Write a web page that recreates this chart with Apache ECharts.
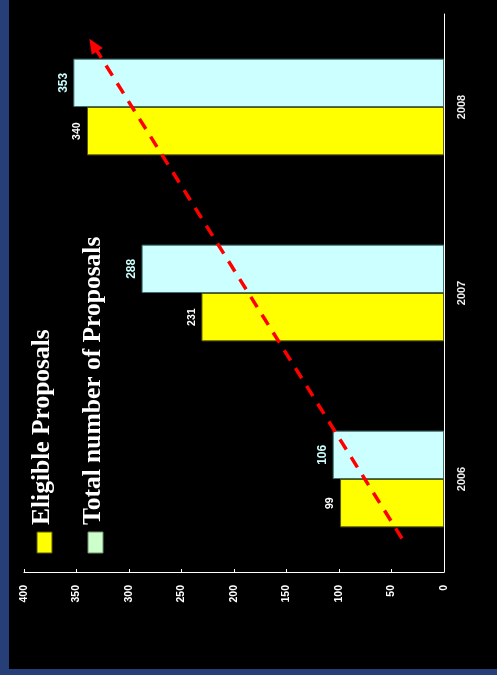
<!DOCTYPE html>
<html>
<head>
<meta charset="utf-8">
<script src="https://cdn.jsdelivr.net/npm/echarts@6/dist/echarts.min.js"></script>
<style>
  html, body { margin: 0; padding: 0; width: 497px; height: 675px; overflow: hidden; background: #263f78; }
  #chart { position: absolute; left: 9px; top: 0; width: 488px; height: 669px; background: #000; }
</style>
</head>
<body>
<div id="chart"></div>
<script>
// Proposals per year
const years = ['2006', '2007', '2008'];
const seriesNames = ['Eligible Proposals', 'Total number of Proposals'];
const eligible = [99, 231, 340];
const total = [106, 288, 353];

// Value scale
const valueMin = 0;
const valueMax = 400;
const valueStep = 50;

// Growth arrow: [value, category position] (category position 0 = 2006 ... 2 = 2008)
const trendStart = [40, -0.32];
const trendEnd = [334, 2.333];

const sans = '"Liberation Sans", Arial, sans-serif';
const serif = '"Liberation Serif", "Times New Roman", serif';

const chart = echarts.init(document.getElementById('chart'), null, { renderer: 'canvas' });

function barLabel(color, size) {
  return {
    show: true,
    position: 'outside',
    rotate: 90,
    align: 'center',
    verticalAlign: 'bottom',
    distance: 4,
    color: color,
    fontSize: size,
    fontWeight: 'bold',
    fontFamily: sans
  };
}

chart.setOption({
  backgroundColor: 'transparent',
  animation: false,
  grid: { left: 15, right: 53, top: 14, bottom: 97, containLabel: false },
  xAxis: [
    {
      type: 'value',
      inverse: true,
      position: 'bottom',
      min: valueMin,
      max: valueMax,
      interval: valueStep,
      axisLine: { show: true, onZero: false, lineStyle: { color: '#ffffff', width: 1 } },
      axisTick: { show: true, inside: true, length: 3, lineStyle: { color: '#ffffff' } },
      axisLabel: { rotate: 90, color: '#ffffff', fontSize: 10.5, fontWeight: 'bold', fontFamily: sans, margin: 13 },
      splitLine: { show: false }
    },
    {
      type: 'value',
      inverse: true,
      min: valueMin,
      max: valueMax,
      show: false
    }
  ],
  yAxis: [
    {
      type: 'category',
      data: years,
      position: 'right',
      axisLine: { show: true, onZero: false, lineStyle: { color: '#ffffff', width: 1 } },
      axisTick: { show: false },
      axisLabel: { rotate: 90, color: '#eeeeee', fontSize: 11, fontWeight: 'bold', fontFamily: sans, margin: 12 },
      splitLine: { show: false }
    },
    {
      type: 'value',
      min: -0.5,
      max: years.length - 0.5,
      show: false
    }
  ],
  series: [
    // Total bars are listed first so that they sit above the eligible bars in each band
    {
      name: seriesNames[1],
      type: 'bar',
      xAxisIndex: 0,
      yAxisIndex: 0,
      data: total,
      barGap: '0%',
      barCategoryGap: '48%',
      itemStyle: { color: '#ccffff', borderColor: '#3f6f6f', borderWidth: 1 },
      label: barLabel('#ccffff', 12)
    },
    {
      name: seriesNames[0],
      type: 'bar',
      xAxisIndex: 0,
      yAxisIndex: 0,
      data: eligible,
      barGap: '0%',
      barCategoryGap: '48%',
      itemStyle: { color: '#ffff00', borderColor: '#5a5a00', borderWidth: 1 },
      label: barLabel('#ffffff', 10.5)
    },
    {
      name: 'trend',
      type: 'line',
      xAxisIndex: 1,
      yAxisIndex: 1,
      silent: true,
      z: 5,
      showSymbol: true,
      data: [
        { value: trendStart, symbol: 'none' },
        { value: trendEnd, symbol: 'triangle', symbolSize: [13, 15], symbolRotate: 32 }
      ],
      lineStyle: { color: '#ff0000', width: 3.5, type: [12, 9] },
      itemStyle: { color: '#ff0000' }
    }
  ],
  graphic: [
    { type: 'rect', shape: { x: 28, y: 532, width: 15, height: 21 }, style: { fill: '#ffff00', stroke: '#5a5a00', lineWidth: 1 } },
    { type: 'rect', shape: { x: 79, y: 532, width: 15, height: 21 }, style: { fill: '#ccffcc', stroke: '#6f8f6f', lineWidth: 1 } },
    {
      type: 'text', x: 33, y: 525, rotation: Math.PI / 2,
      style: { text: seriesNames[0], fill: '#ffffff', fontSize: 25.5, fontWeight: 'bold', fontFamily: serif, align: 'left', verticalAlign: 'middle' }
    },
    {
      type: 'text', x: 84, y: 525, rotation: Math.PI / 2,
      style: { text: seriesNames[1], fill: '#ffffff', fontSize: 25.5, fontWeight: 'bold', fontFamily: serif, align: 'left', verticalAlign: 'middle' }
    }
  ]
});
</script>
</body>
</html>
